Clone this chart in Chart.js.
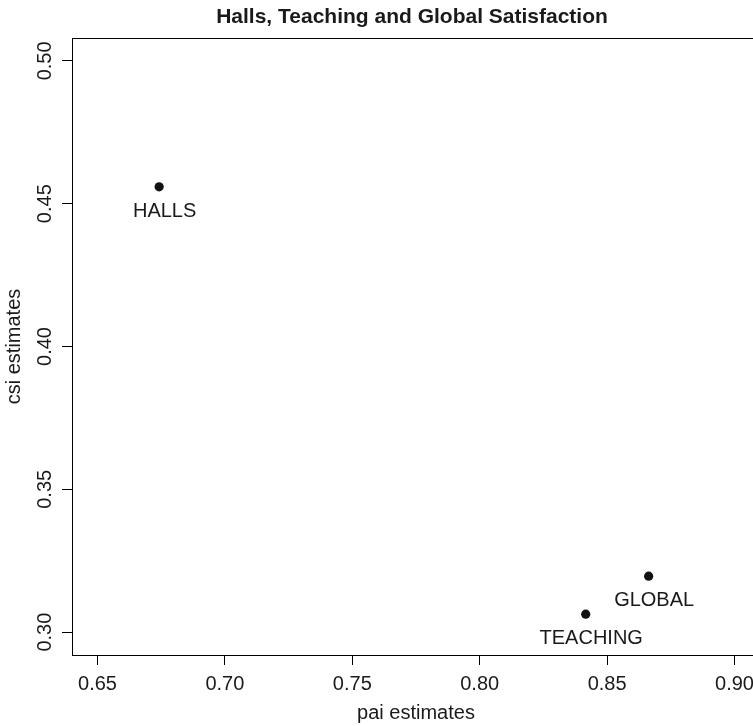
<!DOCTYPE html>
<html>
<head>
<meta charset="utf-8">
<script src="https://cdn.jsdelivr.net/npm/chart.js@4/dist/chart.umd.min.js"></script>
<style>
  html, body { margin: 0; padding: 0; background: #fff; overflow: hidden; }
  #wrap { width: 753px; height: 726px; overflow: hidden; position: relative; }
  canvas { display: block; }
</style>
</head>
<body>
<div id="wrap"><canvas id="c" width="770" height="726"></canvas></div>
<script>
// ---- data ----
const categories = ["HALLS", "TEACHING", "GLOBAL"];
const paiValues = [0.6742, 0.8416, 0.8663];
const csiValues = [0.4559, 0.3063, 0.3196];
const xTicks = [0.65, 0.70, 0.75, 0.80, 0.85, 0.90];
const yTicks = [0.30, 0.35, 0.40, 0.45, 0.50];
const xRange = [0.64, 0.91];
const yRange = [0.292, 0.508];
const chartTitle = "Halls, Teaching and Global Satisfaction";
const xTitle = "pai estimates";
const yTitle = "csi estimates";

const FONT = "'Liberation Sans', Arial, Helvetica, sans-serif";
const INK = "#1a1a1a";

const points = categories.map((c, i) => ({ x: paiValues[i], y: csiValues[i], label: c }));

const decorPlugin = {
  id: 'decor',
  afterDraw(chart) {
    const ctx = chart.ctx;
    const a = chart.chartArea;
    ctx.save();
    // plot box
    ctx.strokeStyle = '#000';
    ctx.lineWidth = 1;
    ctx.strokeRect(Math.round(a.left) + 0.5, Math.round(a.top) + 0.5, Math.round(a.right - a.left), Math.round(a.bottom - a.top));
    // title
    ctx.fillStyle = INK;
    ctx.font = "bold 21px " + FONT;
    ctx.textAlign = 'center';
    ctx.textBaseline = 'alphabetic';
    ctx.fillText(chartTitle, (a.left + a.right) / 2 - 4, 23);
    // point labels
    ctx.font = "20px " + FONT;
    const meta = chart.getDatasetMeta(0);
    meta.data.forEach((el, i) => {
      ctx.fillText(categories[i], el.x + 5.5, el.y + 30);
    });
    ctx.restore();
  }
};

new Chart(document.getElementById('c'), {
  type: 'scatter',
  data: {
    datasets: [{
      data: points,
      backgroundColor: '#111',
      borderColor: '#111',
      pointRadius: 4.6,
      pointHoverRadius: 4.6,
      borderWidth: 0
    }]
  },
  options: {
    responsive: false,
    animation: false,
    devicePixelRatio: 1,
    layout: { padding: { left: 0, right: 10, top: 38, bottom: 0 } },
    plugins: { legend: { display: false }, title: { display: false }, tooltip: { enabled: false } },
    scales: {
      x: {
        type: 'linear',
        min: xRange[0], max: xRange[1],
        afterBuildTicks: s => { s.ticks = xTicks.map(v => ({ value: v })); },
        afterFit: s => { s.height = 71; },
        border: { display: true, color: '#000', width: 1 },
        grid: { display: true, drawOnChartArea: false, drawTicks: true, tickLength: 10, color: '#000', lineWidth: 1 },
        ticks: {
          color: INK, font: { family: FONT, size: 20 }, padding: 7,
          maxRotation: 0, minRotation: 0, autoSkip: false,
          callback: v => v.toFixed(2)
        },
        title: { display: true, text: xTitle, color: INK, font: { family: FONT, size: 20 }, padding: { top: 0, bottom: 1 } }
      },
      y: {
        type: 'linear',
        min: yRange[0], max: yRange[1],
        afterBuildTicks: s => { s.ticks = yTicks.map(v => ({ value: v })); },
        afterFit: s => { s.width = 72; },
        border: { display: true, color: '#000', width: 1 },
        grid: { display: true, drawOnChartArea: false, drawTicks: true, tickLength: 10, color: '#000', lineWidth: 1 },
        ticks: {
          color: INK, font: { family: FONT, size: 20 }, padding: -3,
          minRotation: 90, maxRotation: 90, crossAlign: 'center', autoSkip: false,
          callback: v => v.toFixed(2)
        },
        title: { display: true, text: yTitle, color: INK, font: { family: FONT, size: 20 }, padding: { top: 2, bottom: 0 } }
      }
    }
  },
  plugins: [decorPlugin]
});
</script>
</body>
</html>
